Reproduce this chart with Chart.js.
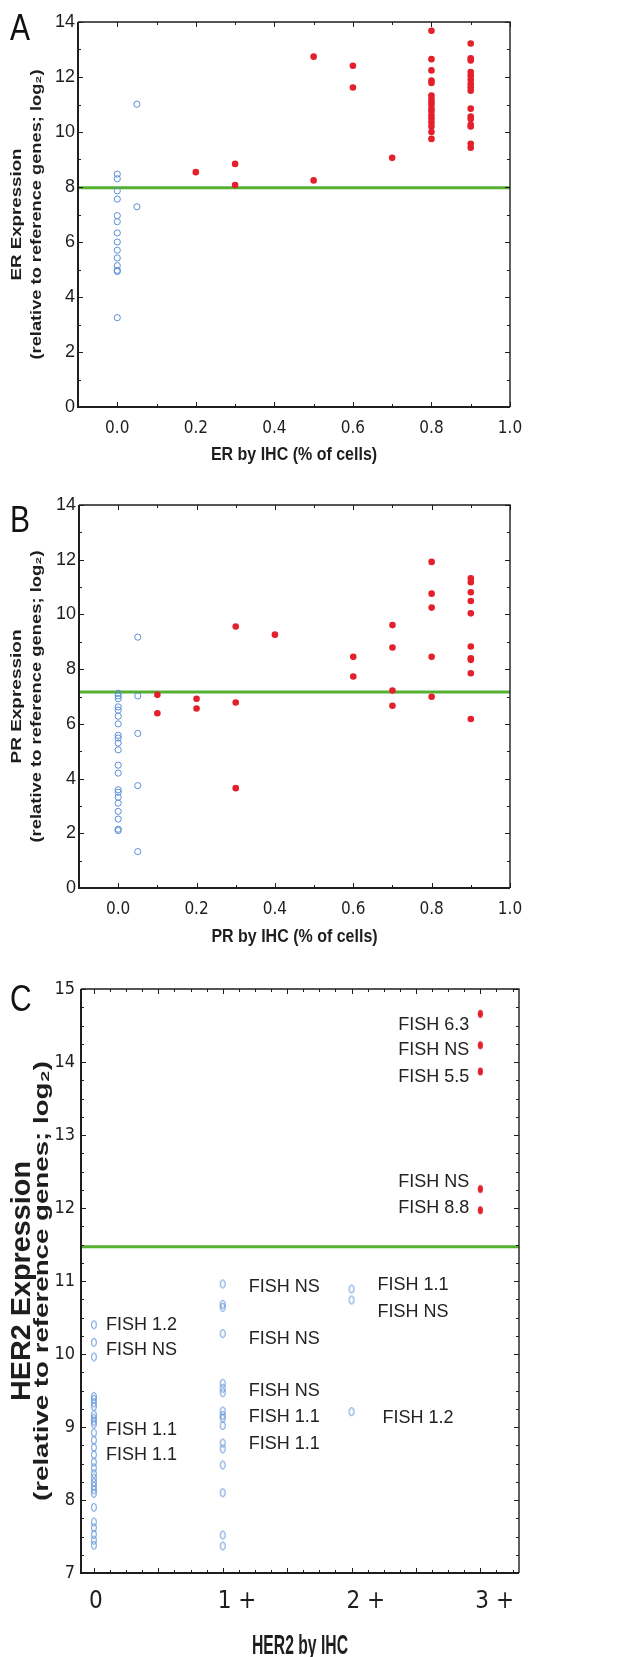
<!DOCTYPE html>
<html>
<head>
<meta charset="utf-8">
<script src="https://cdn.jsdelivr.net/npm/chart.js@4.4.1/dist/chart.umd.min.js"></script>
<style>
  body { margin: 0; background: #fff; }
  canvas.panel { position: absolute; left: 0; }
</style>
</head>
<body>
<canvas id="chartA" class="panel" style="top:0px;width:619px;height:470px" width="619" height="470"></canvas>
<canvas id="chartB" class="panel" style="top:470px;width:619px;height:480px" width="619" height="480"></canvas>
<canvas id="chartC" class="panel" style="top:950px;width:619px;height:707px" width="619" height="707"></canvas>
<script>
// ---------- data ----------
// each column: [IHC fraction, [expression values]]
const erNegative = [
    [0.0, [8.47, 8.30, 7.86, 7.56, 6.96, 6.74, 6.33, 6.00, 5.70, 5.42, 5.14, 4.97, 4.93, 3.25]],
    [0.05, [11.01, 7.28]]
];
const erPositive = [
    [0.2, [8.54]],
    [0.3, [8.84, 8.07]],
    [0.5, [12.74, 8.24]],
    [0.6, [12.41, 11.62]],
    [0.7, [9.06]],
    [0.8, [13.68, 12.65, 12.24, 11.87, 11.78, 11.33, 11.20, 11.10, 11.00, 10.85, 10.75, 10.60, 10.48, 10.35, 10.20, 10.00, 9.75]],
    [0.9, [13.22, 12.68, 12.60, 12.18, 12.05, 11.90, 11.75, 11.63, 11.50, 10.85, 10.56, 10.47, 10.26, 10.20, 9.57, 9.43]]
];
const erCutoff = 7.97;

const prNegative = [
    [0.0, [7.12, 7.02, 6.92, 6.62, 6.50, 6.28, 6.00, 5.58, 5.48, 5.30, 5.05, 4.49, 4.20, 3.59, 3.50, 3.32, 3.10, 2.80, 2.52, 2.15, 2.10]],
    [0.05, [9.17, 7.02, 5.65, 3.74, 1.33]]
];
const prPositive = [
    [0.1, [7.06, 6.39]],
    [0.2, [6.92, 6.56]],
    [0.3, [9.56, 6.78, 3.65]],
    [0.4, [9.26]],
    [0.6, [8.45, 7.73]],
    [0.7, [9.61, 8.79, 7.22, 6.66]],
    [0.8, [11.92, 10.76, 10.25, 8.45, 6.99]],
    [0.9, [11.32, 11.18, 10.81, 10.49, 10.04, 8.83, 8.40, 8.34, 7.85, 6.18]]
];
const prCutoff = 7.16;

const her2Normal = [
    [0, [10.40, 10.16, 9.96, 9.42, 9.38, 9.33, 9.28, 9.17, 9.12, 9.08, 9.04, 8.92, 8.82, 8.72, 8.62, 8.52, 8.44, 8.36, 8.30, 8.24, 8.19, 8.14, 8.09, 7.90, 7.70, 7.62, 7.53, 7.45, 7.38]],
    [1, [10.96, 10.68, 10.64, 10.28, 9.60, 9.53, 9.47, 9.22, 9.16, 9.12, 9.02, 8.78, 8.70, 8.48, 8.10, 7.52, 7.37]],
    [2, [10.89, 10.74, 9.21]]
];
const her2High = [
    [3, [14.66, 14.23, 13.87, 12.26, 11.97]]
];
const her2Cutoff = 11.47;

// FISH notes written next to the HER2 columns
const her2NoteText = ['FISH 1.2', 'FISH NS', 'FISH 1.1', 'FISH 1.1',
    'FISH NS', 'FISH NS', 'FISH NS', 'FISH 1.1', 'FISH 1.1',
    'FISH 1.1', 'FISH NS', 'FISH 1.2',
    'FISH 6.3', 'FISH NS', 'FISH 5.5', 'FISH NS', 'FISH 8.8'];
const her2NoteIhc = [0, 0, 0, 0, 1, 1, 1, 1, 1, 2, 2, 2, 3, 3, 3, 3, 3];
const her2NoteY = [10.40, 10.05, 8.96, 8.61, 10.92, 10.20, 9.49, 9.13, 8.77,
    10.94, 10.58, 9.12, 14.51, 14.17, 13.80, 12.36, 12.00];

// axes
const pctRange = [-0.1, 1.0];
const pctTicks = [0, 0.2, 0.4, 0.6, 0.8, 1.0];
const pctTickLabels = ['0.0', '0.2', '0.4', '0.6', '0.8', '1.0'];
const exprRange = [0, 14];
const exprTicks = [0, 2, 4, 6, 8, 10, 12, 14];
const ihcRange = [-0.1, 3.3];
const ihcTicks = [0, 1, 2, 3];
const ihcTickLabels = ['0', '1 +', '2 +', '3 +'];
const her2Range = [7, 15];
const her2Ticks = [7, 8, 9, 10, 11, 12, 13, 14, 15];

// ---------- styling ----------
const SANS = "'Liberation Sans', Arial, sans-serif";
const NARROW = "'Liberation Sans Narrow', 'Arial Narrow', 'DejaVu Sans Condensed', 'Liberation Sans', sans-serif";
const INK = '#1e1e1e';
const BLUE = '#5b8fd6';
const RED = '#e3202b';
const GREEN = '#55b030';
// gap (px) between a HER2 column and its note; negative = note on the left
const noteGap = [12, 12, 12, 12, 26, 26, 26, 26, 26, 26, 26, 31, -11, -11, -11, -11, -11];

const toPoints = cols => cols.flatMap(([x, ys]) => ys.map(y => ({x: x, y: y})));

function ellipse(rx, ry, fill, stroke) {
    const c = document.createElement('canvas');
    c.width = Math.ceil(rx * 2 + 3);
    c.height = Math.ceil(ry * 2 + 3);
    const g = c.getContext('2d');
    g.beginPath();
    g.ellipse(c.width / 2, c.height / 2, rx, ry, 0, 0, Math.PI * 2);
    if (fill) { g.fillStyle = fill; g.fill(); }
    if (stroke) { g.strokeStyle = stroke; g.lineWidth = 1; g.stroke(); }
    return c;
}

function cutoffLine(range, value) {
    return {
        type: 'line',
        showLine: true,
        data: [{x: range[0], y: value}, {x: range[1], y: value}],
        borderColor: GREEN,
        borderWidth: 3,
        pointRadius: 0,
        order: 3
    };
}

// box, inward ticks, titles, panel letter
const framePlugin = {
    id: 'frame',
    afterDraw(chart, args, o) {
        const {ctx, chartArea: a, scales: {x, y}} = chart;
        const steps = (s, step) => {
            const out = [];
            for (let i = Math.ceil(s.min / step - 1e-6); i <= Math.floor(s.max / step + 1e-6); i++) out.push(i * step);
            return out;
        };
        const isMajor = (v, m) => Math.abs(v / m - Math.round(v / m)) < 1e-6;
        ctx.save();
        ctx.strokeStyle = INK;
        ctx.lineWidth = 1;
        ctx.beginPath();
        steps(x, o.minorX).forEach(v => {
            const p = Math.round(x.getPixelForValue(v)) + 0.5;
            const len = isMajor(v, o.majorX) ? o.major : o.minor;
            ctx.moveTo(p, a.bottom); ctx.lineTo(p, a.bottom - len);
            ctx.moveTo(p, a.top); ctx.lineTo(p, a.top + len);
        });
        steps(y, o.minorY).forEach(v => {
            const p = Math.round(y.getPixelForValue(v)) + 0.5;
            const len = isMajor(v, o.majorY) ? o.major : o.minor;
            ctx.moveTo(a.left, p); ctx.lineTo(a.left + len, p);
            ctx.moveTo(a.right, p); ctx.lineTo(a.right - len, p);
        });
        ctx.stroke();

        ctx.lineWidth = 2;
        ctx.beginPath();
        ctx.moveTo(a.left, a.top); ctx.lineTo(a.left, a.bottom); ctx.lineTo(a.right, a.bottom);
        ctx.stroke();
        ctx.lineWidth = 1.4;
        ctx.beginPath();
        ctx.moveTo(a.left, a.top); ctx.lineTo(a.right, a.top); ctx.lineTo(a.right, a.bottom);
        ctx.stroke();

        ctx.fillStyle = INK;
        ctx.textAlign = 'center';
        ctx.textBaseline = 'middle';
        const midY = (a.top + a.bottom) / 2;
        o.yLines.forEach(t => {
            ctx.save();
            ctx.font = t.font;
            const w = ctx.measureText(t.text).width;
            ctx.translate(t.x, midY);
            ctx.rotate(-Math.PI / 2);
            ctx.scale(t.length / w, 1);
            ctx.fillText(t.text, 0, 0);
            ctx.restore();
        });

        const t = o.xTitle;
        ctx.save();
        ctx.font = t.font;
        const w = ctx.measureText(t.text).width;
        ctx.translate((a.left + a.right) / 2, t.y);
        ctx.scale(t.width ? t.width / w : 1, t.sy);
        ctx.fillText(t.text, 0, 0);
        ctx.restore();

        const L = o.letter;
        ctx.save();
        ctx.fillStyle = '#111';
        ctx.font = L.font;
        ctx.textAlign = 'left';
        ctx.textBaseline = 'alphabetic';
        ctx.translate(L.x, L.y);
        ctx.scale(1, L.sy);
        ctx.fillText(L.text, 0, 0);
        ctx.restore();
        ctx.restore();
    }
};

const notesPlugin = {
    id: 'notes',
    afterDatasetsDraw(chart) {
        const {ctx, scales: {x, y}} = chart;
        ctx.save();
        ctx.font = '18px ' + SANS;
        ctx.fillStyle = '#222';
        ctx.textBaseline = 'middle';
        her2NoteText.forEach((txt, i) => {
            ctx.textAlign = noteGap[i] < 0 ? 'right' : 'left';
            ctx.fillText(txt, x.getPixelForValue(her2NoteIhc[i]) + noteGap[i], y.getPixelForValue(her2NoteY[i]));
        });
        ctx.restore();
    }
};

function buildPanel(id, p) {
    return new Chart(document.getElementById(id), {
        type: 'scatter',
        data: {datasets: p.datasets},
        options: {
            responsive: false,
            animation: false,
            events: [],
            layout: {padding: p.padding},
            plugins: {
                legend: {display: false},
                tooltip: {enabled: false},
                frame: p.frame
            },
            scales: {
                x: {
                    type: 'linear',
                    min: p.xRange[0],
                    max: p.xRange[1],
                    afterBuildTicks: s => { s.ticks = p.xTicks.map(v => ({value: v})); },
                    afterFit: s => { s.height = p.xHeight; },
                    grid: {display: false, drawTicks: false},
                    border: {display: false},
                    ticks: {
                        autoSkip: false,
                        maxRotation: 0,
                        padding: p.xPad,
                        color: INK,
                        font: p.xFont,
                        align: p.xAlign || 'center',
                        labelOffset: p.xShift || 0,
                        callback: (v, i) => p.xLabels[i]
                    }
                },
                y: {
                    type: 'linear',
                    min: p.yRange[0],
                    max: p.yRange[1],
                    afterBuildTicks: s => { s.ticks = p.yTicks.map(v => ({value: v})); },
                    afterFit: s => { s.width = p.yWidth; },
                    grid: {display: false, drawTicks: false},
                    border: {display: false},
                    ticks: {
                        autoSkip: false,
                        padding: p.yPad,
                        color: INK,
                        font: p.yFont,
                        callback: v => String(v)
                    }
                }
            }
        },
        plugins: [framePlugin].concat(p.extra || [])
    });
}

const openDot = {pointStyle: 'circle', pointRadius: 3.1, pointBorderWidth: 1, pointBorderColor: BLUE, pointBackgroundColor: 'rgba(0,0,0,0)', order: 1};
const fullDot = {pointStyle: 'circle', pointRadius: 3.3, pointBorderWidth: 0, pointBackgroundColor: RED, order: 1};

const lineFont = 'bold 15px ' + SANS;

buildPanel('chartA', {
    datasets: [
        cutoffLine(pctRange, erCutoff),
        Object.assign({data: toPoints(erNegative)}, openDot),
        Object.assign({data: toPoints(erPositive)}, fullDot)
    ],
    padding: {top: 22, right: 109, left: 0, bottom: 0},
    xRange: pctRange, xTicks: pctTicks, xLabels: pctTickLabels,
    xHeight: 63, xPad: 11, xFont: {family: NARROW, size: 17},
    yRange: exprRange, yTicks: exprTicks,
    yWidth: 78, yPad: 3, yFont: {family: SANS, size: 18},
    frame: {
        minorX: 0.1, majorX: 0.2, minorY: 1, majorY: 2, major: 5, minor: 3,
        yLines: [
            {text: 'ER Expression', font: lineFont, x: 17, length: 132},
            {text: '(relative to reference genes; log\u2082)', font: lineFont, x: 37, length: 290}
        ],
        xTitle: {text: 'ER by IHC (% of cells)', font: 'bold 16px ' + SANS, y: 455, sy: 1.15},
        letter: {text: 'A', font: '30px ' + SANS, x: 10, y: 40, sy: 1.25}
    }
});

buildPanel('chartB', {
    datasets: [
        cutoffLine(pctRange, prCutoff),
        Object.assign({data: toPoints(prNegative)}, openDot),
        Object.assign({data: toPoints(prPositive)}, fullDot)
    ],
    padding: {top: 35, right: 109, left: 0, bottom: 0},
    xRange: pctRange, xTicks: pctTicks, xLabels: pctTickLabels,
    xHeight: 62, xPad: 11, xFont: {family: NARROW, size: 17},
    yRange: exprRange, yTicks: exprTicks,
    yWidth: 79, yPad: 3, yFont: {family: SANS, size: 18},
    frame: {
        minorX: 0.1, majorX: 0.2, minorY: 1, majorY: 2, major: 5, minor: 3,
        yLines: [
            {text: 'PR Expression', font: lineFont, x: 17, length: 134},
            {text: '(relative to reference genes; log\u2082)', font: lineFont, x: 37, length: 292}
        ],
        xTitle: {text: 'PR by IHC (% of cells)', font: 'bold 16px ' + SANS, y: 467, sy: 1.15},
        letter: {text: 'B', font: '30px ' + SANS, x: 10, y: 62, sy: 1.25}
    }
});

buildPanel('chartC', {
    datasets: [
        cutoffLine(ihcRange, her2Cutoff),
        {data: toPoints(her2Normal), pointStyle: ellipse(2.4, 4, null, BLUE), pointRadius: 4, order: 1},
        {data: toPoints(her2High), pointStyle: ellipse(2.6, 3.9, RED, null), pointRadius: 4, order: 1}
    ],
    padding: {top: 39, right: 100, left: 0, bottom: 0},
    xRange: ihcRange, xTicks: ihcTicks, xLabels: ihcTickLabels,
    xHeight: 84, xPad: 14, xFont: {family: NARROW, size: 24},
    xAlign: 'start', xShift: -5,
    yRange: her2Range, yTicks: her2Ticks,
    yWidth: 81, yPad: 6, yFont: {family: NARROW, size: 18},
    frame: {
        minorX: 0.125, majorX: 0.5, minorY: 0.25, majorY: 1, major: 5, minor: 3,
        yLines: [
            {text: 'HER2 Expression', font: 'bold 28px ' + SANS, x: 22, length: 240},
            {text: '(relative to reference genes; log\u2082)', font: 'bold 21px ' + SANS, x: 42, length: 440}
        ],
        xTitle: {text: 'HER2 by IHC', font: 'bold 22px ' + SANS, y: 696, width: 96, sy: 1.27},
        letter: {text: 'C', font: '30px ' + SANS, x: 10, y: 61, sy: 1.2}
    },
    extra: [notesPlugin]
});
</script>
</body>
</html>
